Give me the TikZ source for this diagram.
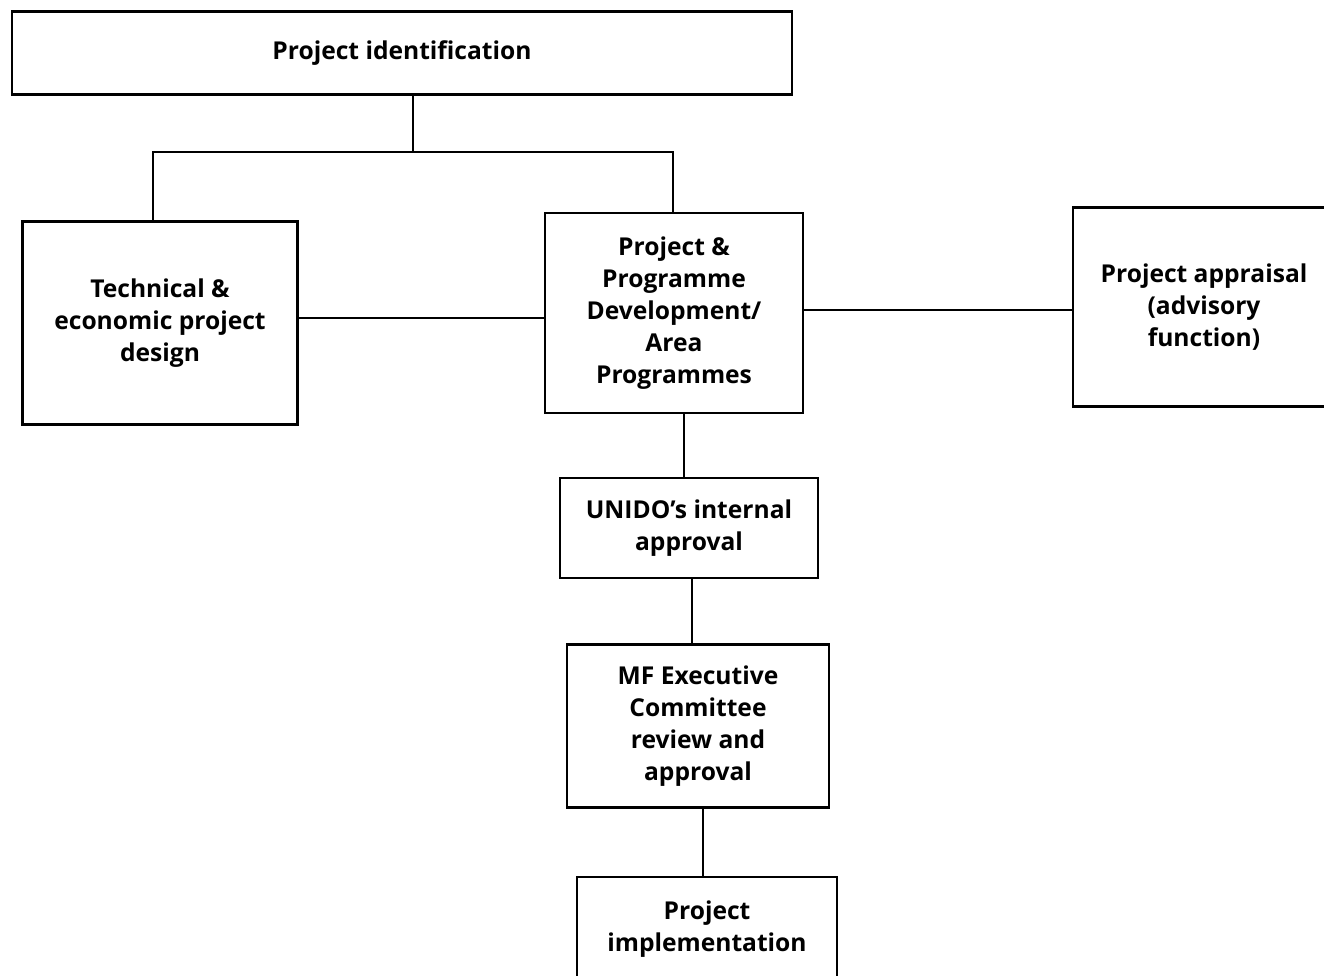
\documentclass[tikz,border=0pt]{standalone}
\usepackage{fontspec}
\setmainfont{Open Sans}
\begin{document}
\begin{tikzpicture}[x=0.02cm,y=-0.02cm,
  box/.style={draw,line width=1.6pt,align=center,inner sep=0pt,font=\fontsize{14}{18.2}\selectfont\bfseries},
  conn/.style={line width=1.6pt}]
\useasboundingbox (0,0) rectangle (1324,976);
\clip (0,0) rectangle (1324,976);
\node[box,minimum width=780*0.02cm,minimum height=83*0.02cm] (pid) at (402,53) {Project identification};
\node[box,minimum width=275*0.02cm,minimum height=203*0.02cm] (tech) at (160,323) {Technical \&\\economic project\\design};
\node[box,minimum width=258*0.02cm,minimum height=200*0.02cm] (ppd) at (674,313) {Project \&\\Programme\\Development/\\Area\\Programmes};
\node[box,minimum width=262*0.02cm,minimum height=199*0.02cm] (appr) at (1204,307) {Project appraisal\\(advisory\\function)};
\node[box,minimum width=258*0.02cm,minimum height=100*0.02cm] (unido) at (689,528) {UNIDO's internal\\approval};
\node[box,minimum width=262*0.02cm,minimum height=163*0.02cm] (mf) at (698,726) {MF Executive\\Committee\\review and\\approval};
\node[box,minimum width=260*0.02cm,minimum height=130*0.02cm] (impl) at (707,942) {Project\\implementation\\\rule{0pt}{0.3cm}};
\coordinate (j) at (413,152);
\coordinate (jl) at (153,152);
\coordinate (jr) at (673,152);
\draw[conn] (pid.south -| j) -- (j);
\draw[conn] (tech.north -| jl) -- (jl) -- (jr) -- (ppd.north -| jr);
\draw[conn] (tech.east |- 0,318) -- (ppd.west |- 0,318);
\draw[conn] (ppd.east |- 0,310) -- (appr.west |- 0,310);
\draw[conn] (ppd.south -| 684,0) -- (unido.north -| 684,0);
\draw[conn] (unido.south -| 692,0) -- (mf.north -| 692,0);
\draw[conn] (mf.south -| 703,0) -- (impl.north -| 703,0);
\end{tikzpicture}
\end{document}
